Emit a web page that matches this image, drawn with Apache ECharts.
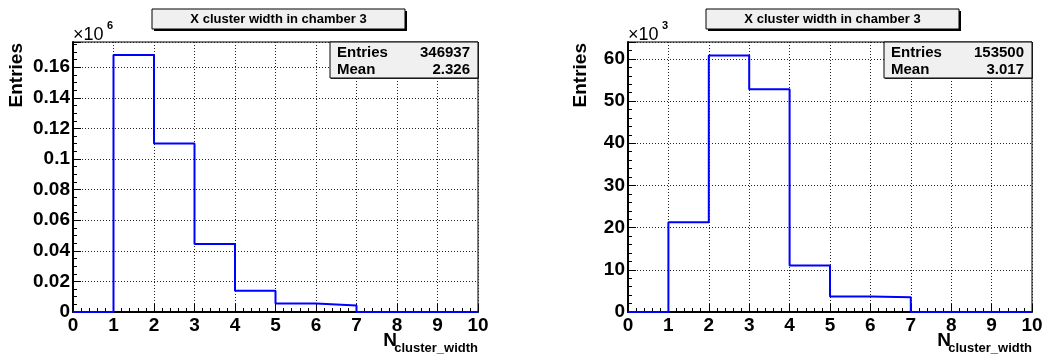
<!DOCTYPE html>
<html>
<head>
<meta charset="utf-8">
<title>X cluster width in chamber 3</title>
<script src="https://cdn.jsdelivr.net/npm/echarts@6/dist/echarts.min.js"></script>
<style>
  html, body { margin: 0; padding: 0; background: #fff; }
  #main { width: 1048px; height: 356px; }
</style>
</head>
<body>
<div id="main"></div>
<script>
// histogram data, bins are [edge, edge+1)
var binEdges = [0, 1, 2, 3, 4, 5, 6, 7, 8, 9, 10];
var leftCounts = [0, 168000, 110100, 44500, 13900, 5600, 4300, 0, 0, 0];
var rightCounts = [0, 21300, 60800, 52800, 11000, 3700, 3500, 0, 0, 0];
var leftStats = ['346937', '2.326'];
var rightStats = ['153500', '3.017'];
var statNames = ['Entries', 'Mean'];
var titleText = 'X cluster width in chamber 3';
var xTickLabels = ['0', '1', '2', '3', '4', '5', '6', '7', '8', '9', '10'];

var FONT = '"Liberation Sans", Arial, Helvetica, sans-serif';

// step points: each bin starts at its low edge, last point closes at 10
function stepData(counts) {
    var d = [];
    for (var i = 0; i < counts.length; i++) {
        d.push([binEdges[i], counts[i]]);
    }
    d.push([binEdges[binEdges.length - 1], counts[counts.length - 1]]);
    return d;
}

function xAxisOpt(gi) {
    return {
        type: 'value', gridIndex: gi, min: 0, max: 10, interval: 1,
        axisLine: { show: true, onZero: false, lineStyle: { color: '#000', width: 2 } },
        axisTick: { inside: true, length: 8, lineStyle: { color: '#000' } },
        minorTick: { show: true, splitNumber: 5, length: 4, lineStyle: { color: '#000' } },
        axisLabel: {
            color: '#000', fontFamily: FONT, fontWeight: 'bold', fontSize: 19, margin: 4,
            formatter: function (v) { return xTickLabels[Math.round(v)]; }
        },
        splitLine: { show: true, lineStyle: { color: '#222', type: [1, 2], width: 1 } }
    };
}

function yAxisOpt(gi, max, interval, minorSplit, scale) {
    return {
        type: 'value', gridIndex: gi, min: 0, max: max, interval: interval,
        axisLine: { show: true, lineStyle: { color: '#000', width: 2 } },
        axisTick: { inside: true, length: 8, lineStyle: { color: '#000' } },
        minorTick: { show: true, splitNumber: minorSplit, length: 4, lineStyle: { color: '#000' } },
        axisLabel: {
            color: '#000', fontFamily: FONT, fontWeight: 'bold', fontSize: 19, margin: 3,
            showMaxLabel: false,
            formatter: function (v) { return String(parseFloat((v / scale).toFixed(3))); }
        },
        splitLine: { show: true, lineStyle: { color: '#222', type: [1, 2], width: 1 } }
    };
}

function panelGraphics(gx, gw, titleX, statX, yNameX, expo, stats) {
    var g = [];
    // title box with shadow
    g.push({ type: 'rect', shape: { x: titleX + 2, y: 11, width: 253, height: 20 }, style: { fill: '#000' } });
    g.push({ type: 'rect', shape: { x: titleX, y: 9, width: 253, height: 20 }, style: { fill: '#f0f0f0', stroke: '#000', lineWidth: 1 } });
    g.push({ type: 'text', x: titleX + 126.5, y: 19.5, style: { text: titleText, font: 'bold 13px ' + FONT, fill: '#000', align: 'center', verticalAlign: 'middle' } });
    // stats box
    g.push({ type: 'rect', z: 10, shape: { x: statX + 1, y: 43, width: 148, height: 36 }, style: { fill: '#333' } });
    g.push({ type: 'rect', z: 11, shape: { x: statX, y: 42, width: 148, height: 36 }, style: { fill: '#f0f0f0', stroke: '#000', lineWidth: 1 } });
    for (var i = 0; i < 2; i++) {
        g.push({ type: 'text', z: 12, x: statX + 7, y: 52.5 + i * 17.5, style: { text: statNames[i], font: 'bold 15px ' + FONT, fill: '#000', align: 'left', verticalAlign: 'middle' } });
        g.push({ type: 'text', z: 12, x: statX + 140, y: 52.5 + i * 17.5, style: { text: stats[i], font: 'bold 15px ' + FONT, fill: '#000', align: 'right', verticalAlign: 'middle' } });
    }
    // y axis title
    g.push({ type: 'text', x: yNameX, y: 43, rotation: Math.PI / 2, style: { text: 'Entries', font: 'bold 19px ' + FONT, fill: '#000', align: 'right', verticalAlign: 'middle' } });
    // exponent
    g.push({ type: 'text', x: gx, y: 35.5, style: { text: '\u00d710', font: '18px ' + FONT, fill: '#000', align: 'left', verticalAlign: 'middle' } });
    g.push({ type: 'text', x: gx + 34, y: 26, style: { text: expo, font: 'bold 11px ' + FONT, fill: '#000', align: 'left', verticalAlign: 'middle' } });
    // x axis title N_cluster_width
    g.push({ type: 'text', x: gx + gw, y: 348, style: { text: 'cluster_width', font: 'bold 13px ' + FONT, fill: '#000', align: 'right', verticalAlign: 'middle' } });
    g.push({ type: 'text', x: gx + gw - 81, y: 340.5, style: { text: 'N', font: 'bold 19px ' + FONT, fill: '#000', align: 'right', verticalAlign: 'middle' } });
    return g;
}

var chart = echarts.init(document.getElementById('main'), null, { renderer: 'canvas' });
chart.setOption({
    backgroundColor: '#fff',
    animation: false,
    grid: [
        { left: 73, top: 42, width: 405, height: 270, show: true, borderColor: '#000', borderWidth: 1, backgroundColor: '#fff' },
        { left: 628, top: 42, width: 404, height: 270, show: true, borderColor: '#000', borderWidth: 1, backgroundColor: '#fff' }
    ],
    xAxis: [xAxisOpt(0), xAxisOpt(1)],
    yAxis: [
        yAxisOpt(0, 176500, 20000, 4, 1e6),
        yAxisOpt(1, 64000, 10000, 5, 1e3)
    ],
    series: [
        { type: 'line', xAxisIndex: 0, yAxisIndex: 0, step: 'end', symbol: 'none', data: stepData(leftCounts), lineStyle: { color: '#0000ff', width: 2 }, itemStyle: { color: '#0000ff' }, z: 5 },
        { type: 'line', xAxisIndex: 1, yAxisIndex: 1, step: 'end', symbol: 'none', data: stepData(rightCounts), lineStyle: { color: '#0000ff', width: 2 }, itemStyle: { color: '#0000ff' }, z: 5 }
    ],
    graphic: panelGraphics(73, 405, 152, 330, 17, '6', leftStats)
        .concat(panelGraphics(628, 404, 706, 884, 581, '3', rightStats))
});
</script>
</body>
</html>
